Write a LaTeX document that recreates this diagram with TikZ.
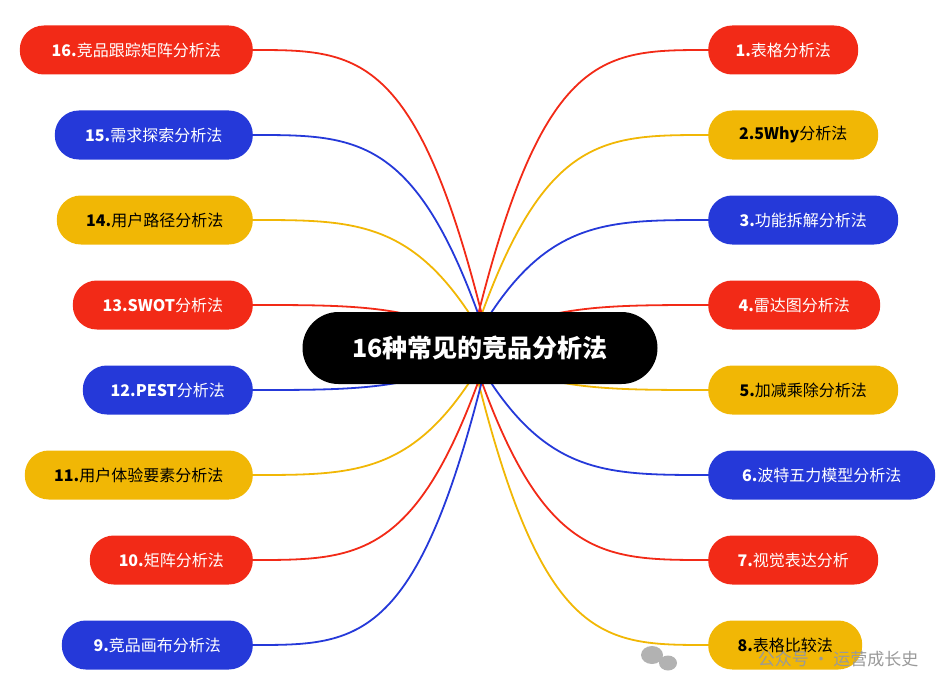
\documentclass[tikz,border=0pt]{standalone}
\usepackage{fontspec}
\setmainfont{Noto Sans CJK SC}
\usetikzlibrary{positioning}
\definecolor{mred}{HTML}{F22A17}
\definecolor{mblue}{HTML}{2539D9}
\definecolor{myellow}{HTML}{F1B705}
\pgfdeclarelayer{bg}
\pgfsetlayers{bg,main}
\begin{document}
\begin{tikzpicture}[x=1pt,y=-1pt]
  \tikzset{root/.style={fill=black,rounded corners=36pt,minimum width=355pt,minimum height=72pt,text=white,font=\fontsize{25}{28}\selectfont\bfseries},
    leaf/.style={rounded corners=24pt,minimum height=49pt,inner sep=0pt,font=\fontsize{16}{18}\selectfont},
    link/.style={line width=1.8pt}}
  \useasboundingbox (0,0) rectangle (952,698);
  \node[root] (root) at (480,348) {16种常见的竞品分析法};
  % right side
  \foreach \i/\w/\c/\tc/\t in {1/150/mred/white/{\bfseries 1.}表格分析法,
      2/170/myellow/black/{\bfseries 2.5Why}分析法,
      3/190/mblue/white/{\bfseries 3.}功能拆解分析法,
      4/172/mred/white/{\bfseries 4.}雷达图分析法,
      5/190/myellow/black/{\bfseries 5.}加减乘除分析法,
      6/227/mblue/white/{\bfseries 6.}波特五力模型分析法,
      7/170/mred/white/{\bfseries 7.}视觉表达分析,
      8/154/myellow/black/{\bfseries 8.}表格比较法}{
    \node[leaf,fill=\c,text=\tc,minimum width=\w pt,anchor=west] (r\i) at (708,{50+85*(\i-1)}) {\t};
    \begin{pgfonlayer}{bg}
      \draw[link,\c] (470,348) .. controls (540,{50+85*(\i-1)}) and (600,{50+85*(\i-1)}) .. (r\i.west);
    \end{pgfonlayer}
  }
  % left side
  \foreach \i/\w/\c/\tc/\t in {16/233/mred/white/{\bfseries 16.}竞品跟踪矩阵分析法,
      15/198/mblue/white/{\bfseries 15.}需求探索分析法,
      14/196/myellow/black/{\bfseries 14.}用户路径分析法,
      13/180/mred/white/{\bfseries 13.SWOT}分析法,
      12/170/mblue/white/{\bfseries 12.PEST}分析法,
      11/228/myellow/black/{\bfseries 11.}用户体验要素分析法,
      10/163/mred/white/{\bfseries 10.}矩阵分析法,
      9/191/mblue/white/{\bfseries 9.}竞品画布分析法}{
    \node[leaf,fill=\c,text=\tc,minimum width=\w pt,anchor=east] (l\i) at (253,{50+85*(16-\i)}) {\t};
    \begin{pgfonlayer}{bg}
      \draw[link,\c] (490,348) .. controls (420,{50+85*(16-\i)}) and (360,{50+85*(16-\i)}) .. (l\i.east);
    \end{pgfonlayer}
  }
  \node[text=gray!80,font=\fontsize{17}{20}\selectfont,anchor=east] (mark) at (922,659) {公众号 · 运营成长史};
  \fill[gray!60] (652,655) ellipse (11pt and 9pt) (668,663) ellipse (9pt and 7.5pt);
\end{tikzpicture}
\end{document}
